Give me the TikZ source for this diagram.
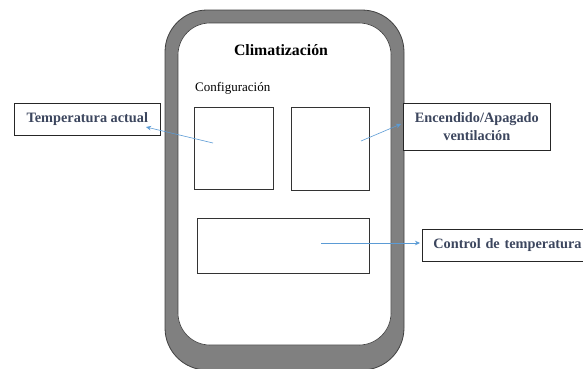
\documentclass[tikz,border=0pt]{standalone}
\usepackage{fontspec}
\setmainfont{Liberation Serif}[BoldFont={Liberation Serif Bold}]
\usetikzlibrary{arrows.meta}
\definecolor{ringgray}{HTML}{808080}
\definecolor{ringedge}{HTML}{404040}
\definecolor{labeltext}{HTML}{3C465E}
\definecolor{arrowblue}{HTML}{5B9BD5}
\tikzset{
  panel/.style={draw=black!80, line width=0.6pt, fill=white},
  labelbox/.style={draw=black!85, line width=0.7pt, fill=white, inner sep=0pt,
    font=\fontsize{14.3}{17.5}\selectfont\bfseries, text=labeltext, align=center},
  pointer/.style={draw=arrowblue, line width=0.6pt, -{Stealth[length=5pt,width=4.5pt]}},
}
\begin{document}
\begin{tikzpicture}[x=1pt,y=-1pt]
  \useasboundingbox (0,0) rectangle (583,368);
  % device frame
  \draw[fill=ringgray, draw=ringedge, line width=0.8pt, rounded corners=42pt]
    (165,10) rectangle (404,370);
  \draw[fill=white, draw=ringedge, line width=0.6pt, rounded corners=32pt]
    (178,23) rectangle (391,345);
  % header texts
  \node[font=\fontsize{15.8}{18}\selectfont\bfseries] (title) at (281,50) {Climatización};
  \node[font=\fontsize{13}{15}\selectfont, anchor=west, inner sep=0pt] (config) at (195,88) {Configuración};
  % inner panels
  \draw[panel] (194,107) rectangle (273,189) coordinate (p1);
  \draw[panel] (291,107) rectangle (369,190) coordinate (p2);
  \draw[panel] (197,218) rectangle (369,273) coordinate (p3);
  % label boxes
  \node[labelbox, minimum width=146pt, minimum height=32pt, anchor=north west] (tact) at (14,103) {Temperatura actual};
  \node[labelbox, minimum width=147pt, minimum height=47pt, anchor=north west] (vent) at (403,103) {Encendido/Apagado\\ventilación};
  \node[labelbox, minimum width=175pt, minimum height=32pt, anchor=north west, text width=175pt, align=left] (ctrl) at (422,229) {\hspace{11pt}Control de temperatura};
  % pointers
  \coordinate (s1) at (213,143);
  \coordinate (e1) at (146,127);
  \coordinate (s2) at (361,141);
  \coordinate (e2) at (401,124);
  \coordinate (s3) at (321,243);
  \coordinate (e3) at (420,243);
  \draw[pointer] (s1) -- (e1);
  \draw[pointer] (s2) -- (e2);
  \draw[pointer] (s3) -- (e3);
\end{tikzpicture}
\end{document}
